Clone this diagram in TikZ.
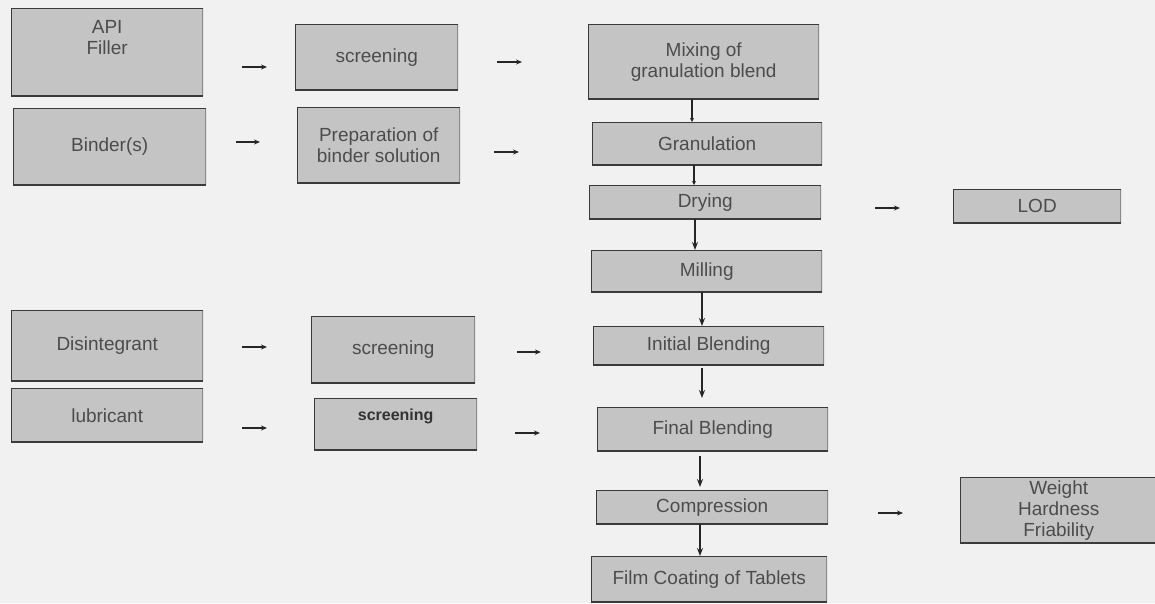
\documentclass[tikz,border=0pt]{standalone}
\usepackage{fontspec}
\setmainfont{Liberation Sans}
\usetikzlibrary{arrows.meta}
\definecolor{bgc}{HTML}{F1F1F1}
\definecolor{boxc}{HTML}{C4C4C4}
\definecolor{edgec}{HTML}{3A3A3A}
\definecolor{edgelc}{HTML}{8A8A8A}
\definecolor{txtc}{HTML}{4C4C4C}
\begin{document}
\begin{tikzpicture}[x=1pt,y=-1pt,
  box/.style={fill=boxc, inner sep=0pt, anchor=north west, text=txtc,
    font=\fontsize{19}{21}\selectfont, align=center,
    path picture={
      \draw[edgelc, line width=1.6pt] (path picture bounding box.north east) -- (path picture bounding box.south east);
      \draw[edgec, line width=2pt] (path picture bounding box.north east) -- (path picture bounding box.north west) -- (path picture bounding box.south west) -- (path picture bounding box.south east);}},
  harrow/.style={draw=black!85, line width=1.1pt, -{Stealth[length=6pt,width=5pt]}},
  varrow/.style={draw=black!85, line width=1.5pt, -{Stealth[length=8pt,width=6pt]}},
  sarrow/.style={draw=black!85, line width=1.1pt, -{Stealth[length=4pt,width=4pt]}}
]
\useasboundingbox (0,0) rectangle (1155,603);
\fill[bgc] (0,0) rectangle (1155,603);

% left column
\node[box, minimum width=192pt, minimum height=88pt] (api) at (11,8)
  {\raisebox{12pt}[\height][\depth]{\begin{tabular}{@{}c@{}}API\\Filler\end{tabular}}};
\node[box, minimum width=193pt, minimum height=77pt] (binder) at (13,108) {Binder(s)};
\node[box, minimum width=192pt, minimum height=71pt] (disint) at (11,310) {Disintegrant};
\node[box, minimum width=192pt, minimum height=54pt] (lub) at (11,388) {lubricant};

% second column
\node[box, minimum width=163pt, minimum height=66pt] (scr1) at (295,24) {screening};
\node[box, minimum width=163pt, minimum height=76pt] (prep) at (297,107) {Preparation of\\binder solution};
\node[box, minimum width=164pt, minimum height=67pt] (scr3) at (311,316) {screening};
\node[box, minimum width=163pt, minimum height=52pt, text=black!80] (scr4) at (314,398)
  {\raisebox{8pt}[\height][\depth]{\fontsize{16}{18}\selectfont\bfseries screening}};

% middle column
\node[box, minimum width=231pt, minimum height=75pt] (mix) at (588,24) {Mixing of\\granulation blend};
\node[box, minimum width=230pt, minimum height=43pt] (gran) at (592,122) {Granulation};
\node[box, minimum width=232pt, minimum height=34pt] (dry) at (589,185) {Drying};
\node[box, minimum width=231pt, minimum height=42pt] (mill) at (591,250) {Milling};
\node[box, minimum width=231pt, minimum height=39pt] (init) at (593,326) {Initial Blending};
\node[box, minimum width=231pt, minimum height=44pt] (final) at (597,407) {Final Blending};
\node[box, minimum width=232pt, minimum height=34pt] (comp) at (596,490) {Compression};
\node[box, minimum width=236pt, minimum height=46pt] (film) at (591,556) {Film Coating of Tablets};

% right column
\node[box, minimum width=168pt, minimum height=34pt] (lod) at (953,189) {LOD};
\node[box, minimum width=197pt, minimum height=66pt] (qc) at (960,477) {Weight\\Hardness\\Friability};

% free-standing horizontal arrows
\coordinate (a1s) at (242,67);  \coordinate (a1e) at (267,67);
\coordinate (a2s) at (236,142); \coordinate (a2e) at (260,142);
\coordinate (a3s) at (242,347); \coordinate (a3e) at (267,347);
\coordinate (a4s) at (242,428); \coordinate (a4e) at (267,428);
\coordinate (b1s) at (497,62);  \coordinate (b1e) at (522,62);
\coordinate (b2s) at (494,152); \coordinate (b2e) at (519,152);
\coordinate (b3s) at (517,352); \coordinate (b3e) at (541,352);
\coordinate (b4s) at (515,433); \coordinate (b4e) at (540,433);
\coordinate (c1s) at (875,208); \coordinate (c1e) at (900,208);
\coordinate (c2s) at (878,513); \coordinate (c2e) at (903,513);
\foreach \p in {a1,a2,a3,a4,b1,b2,b3,b4,c1,c2}
  \draw[harrow] (\p s) -- (\p e);

% vertical arrows
\coordinate (x1) at (692,0);
\coordinate (x2) at (694,0);
\coordinate (x3) at (695,0);
\coordinate (x4) at (702,0);
\coordinate (x5) at (700,0);
\draw[sarrow] (mix.south -| x1) -- (gran.north -| x1);
\draw[sarrow] (gran.south -| x2) -- (dry.north -| x2);
\draw[varrow] (dry.south -| x3) -- (mill.north -| x3);
\draw[varrow] (mill.south -| x4) -- (init.north -| x4);
\draw[varrow, shorten <=3pt, shorten >=9pt] (init.south -| x4) -- (final.north -| x4);
\draw[varrow, shorten <=5pt, shorten >=3pt] (final.south -| x5) -- (comp.north -| x5);
\draw[varrow] (comp.south -| x5) -- (film.north -| x5);
\end{tikzpicture}
\end{document}
